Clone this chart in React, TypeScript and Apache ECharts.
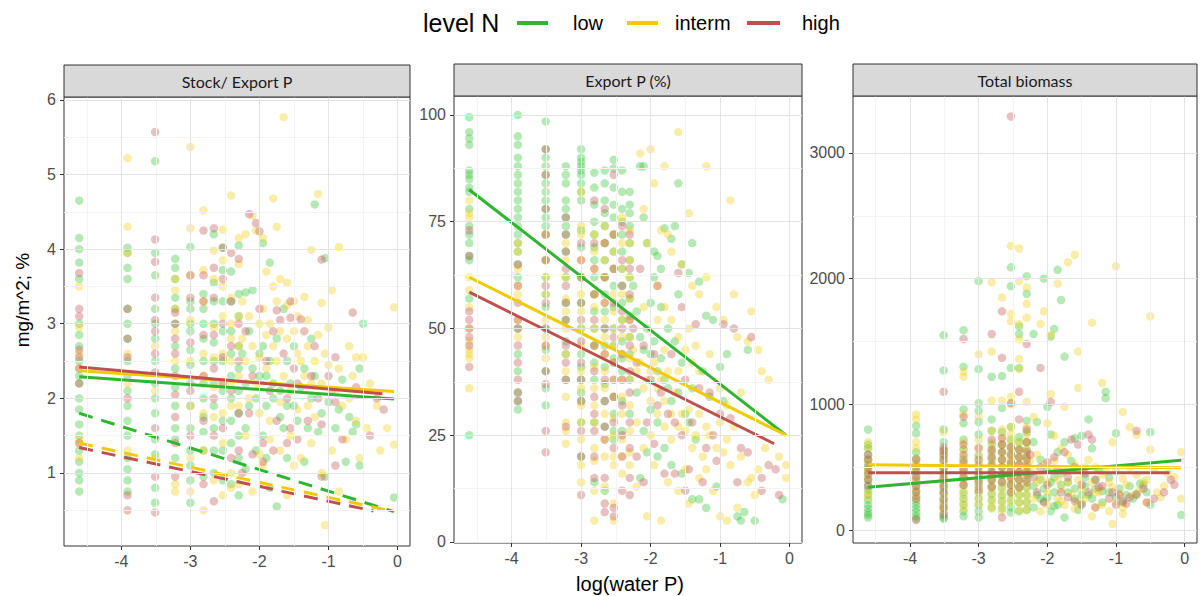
import React, { useEffect, useRef } from "react";
import * as echarts from "echarts";

// ---------------- data ----------------
// discrete log(water P) levels used for the column-like points
const X_LEVELS = [-4.61, -3.91, -3.51, -3.22, -3.0, -2.81, -2.66, -2.53, -2.41, -2.3];
const LEVEL_NAMES = ["low", "interm", "high"];
const PANEL_TITLES = ["Stock/ Export P", "Export P (%)", "Total biomass"];

// x ticks
const X_TICKS = [-4, -3, -2, -1, 0];
const X_MINOR = [-4.5, -3.5, -2.5, -1.5, -0.5];
// y ticks per panel
const Y_TICKS_1 = [1, 2, 3, 4, 5, 6];
const Y_MINOR_1 = [0.5, 1.5, 2.5, 3.5, 4.5, 5.5];
const Y_TICKS_2 = [0, 25, 50, 75, 100];
const Y_MINOR_2 = [12.5, 37.5, 62.5, 87.5];
const Y_TICKS_3 = [0, 1000, 2000, 3000];
const Y_MINOR_3 = [500, 1500, 2500];

// ---- Panel 1: Stock / Export P ----
const P1_LOW_COLS = [
  [4.65, 4.15, 4.0, 3.82, 3.6, 3.0, 2.85, 2.7, 2.5, 2.3, 2.2, 2.0, 1.85, 1.65, 1.5, 1.3, 1.15, 1.0, 0.9, 0.75],
  [4.02, 3.95, 3.75, 3.6, 3.2, 3.0, 2.8, 2.5, 2.3, 2.1, 1.9, 1.7, 1.5, 1.2, 1.05, 0.9, 0.75],
  [5.18, 3.95, 3.65, 3.2, 3.0, 2.8, 2.5, 2.2, 2.0, 1.8, 1.45, 1.25, 0.8, 0.6],
  [3.87, 3.75, 3.6, 3.35, 3.2, 3.0, 2.7, 2.4, 2.15, 1.9, 1.6, 1.45, 1.2],
  [4.03, 3.3, 3.2, 3.0, 2.9, 2.65, 2.45, 2.2, 1.9, 1.6, 1.3, 1.1, 0.9, 0.6],
  [3.4, 3.2, 3.0, 2.8, 2.5, 2.2, 2.0, 1.75, 1.55, 1.3, 0.95],
  [4.2, 3.55, 3.3, 3.0, 2.75, 2.5, 2.2, 1.9, 1.6, 1.3, 1.0],
  [4.02, 3.72, 3.3, 2.9, 2.5, 2.1, 1.7, 1.3, 0.9],
  [3.7, 3.3, 2.9, 2.6, 2.3, 2.0, 1.7, 1.4, 0.85],
  [4.05, 3.4, 3.1, 2.7, 2.4, 2.1, 1.8, 1.5, 1.2, 0.7],
];
const P1_LOW_PTS = [
  [-2.2, 3.42], [-2.1, 3.45], [-1.95, 4.08], [-1.85, 3.82], [-1.2, 4.6], [-1.05, 3.88], [-2.15, 2.9], [-2.0, 2.6],
  [-1.9, 2.3], [-1.8, 2.0], [-1.7, 1.75], [-1.6, 2.5], [-1.5, 1.9], [-1.4, 2.15], [-1.3, 1.6], [-1.2, 2.3],
  [-1.1, 1.8], [-1.0, 1.95], [-0.9, 1.6], [-0.8, 2.25], [-0.7, 1.75], [-0.6, 1.65], [-0.55, 2.4], [-0.5, 3.0],
  [-0.05, 0.67], [-1.75, 0.55], [-2.05, 1.3], [-1.95, 1.5], [-1.6, 1.2], [-1.35, 1.15], [-1.05, 0.95], [-0.75, 1.15],
  [-2.2, 1.05], [-1.85, 0.8], [-1.5, 2.7], [-1.25, 2.8], [-1.65, 3.2], [-0.55, 1.1],
  [-2.25, 2.6], [-2.2, 2.2], [-2.15, 1.9], [-2.1, 2.4], [-2.05, 2.0], [-2.0, 2.3], [-1.95, 2.7], [-1.9, 1.9],
  [-1.85, 2.5], [-1.8, 2.2], [-1.75, 2.8], [-1.7, 2.1], [-1.65, 1.6], [-1.6, 1.9], [-1.55, 2.2], [-1.45, 1.7],
  [-1.35, 2.4], [-1.25, 2.0], [-1.15, 1.55], [-0.95, 2.1], [-0.85, 1.85], [-0.65, 1.55], [-2.2, 1.6], [-1.9, 1.2],
];
const P1_MID_COLS = [
  [3.5, 2.95, 2.6, 2.4, 1.45, 1.4, 1.2],
  [5.22, 4.3, 3.95, 2.6, 2.2, 1.3],
  [2.7, 2.1, 1.2],
  [3.6, 3.45, 3.2, 2.9, 2.5, 0.85, 0.75],
  [5.37, 4.28, 3.65, 3.05, 2.5, 1.9, 1.2, 0.75],
  [4.52, 3.72, 3.3, 2.6, 2.3, 1.8, 1.3, 0.5],
  [3.98, 3.6, 2.95, 2.55, 2.15, 1.75, 0.9],
  [4.26, 3.85, 3.5, 3.1, 2.6, 2.2, 1.8, 1.4, 0.7],
  [4.72, 3.35, 3.0, 2.8, 2.5, 2.2, 1.9, 1.0, 0.8],
  [4.15, 3.8, 3.1, 2.7, 2.3, 1.9, 0.85],
];
const P1_MID_PTS = [
  [-2.2, 4.2], [-2.1, 4.45], [-2.05, 4.25], [-1.95, 4.15], [-1.8, 4.68], [-1.75, 4.3], [-1.65, 5.77], [-1.15, 4.74],
  [-0.85, 4.03], [-1.25, 3.99], [-1.9, 3.7], [-1.8, 3.5], [-1.7, 3.6], [-1.6, 3.25], [-1.5, 3.3], [-1.35, 3.36],
  [-1.3, 3.05], [-1.1, 3.28], [-1.0, 2.95], [-0.95, 3.45], [-0.7, 2.7], [-0.5, 2.55], [-0.05, 3.22], [-2.0, 3.0],
  [-1.9, 2.85], [-1.75, 2.5], [-1.6, 2.8], [-1.45, 2.6], [-1.35, 2.3], [-1.2, 2.5], [-1.1, 2.2], [-1.0, 2.45],
  [-0.9, 2.1], [-0.8, 1.9], [-0.7, 2.0], [-0.6, 1.7], [-0.45, 1.6], [-0.3, 1.9], [-0.15, 1.6], [-0.05, 1.38],
  [-2.15, 2.0], [-2.0, 1.8], [-1.85, 1.7], [-1.7, 1.3], [-1.55, 1.5], [-1.4, 1.2], [-1.25, 1.4], [-1.1, 1.0],
  [-0.95, 1.3], [-0.85, 0.75], [-0.75, 1.45], [-0.55, 1.2], [-1.05, 0.3], [-1.95, 1.1], [-2.1, 0.75], [-1.6, 0.7],
  [-0.4, 2.2], [-1.45, 1.85], [-0.25, 1.3], [-2.25, 3.3],
  [-2.25, 2.8], [-2.2, 2.5], [-2.15, 3.1], [-2.1, 2.7], [-2.05, 2.2], [-2.0, 2.55], [-1.95, 3.2], [-1.9, 2.4],
  [-1.85, 3.0], [-1.8, 2.7], [-1.75, 3.3], [-1.7, 2.9], [-1.65, 2.3], [-1.6, 3.55], [-1.55, 2.1], [-1.5, 2.9],
  [-1.45, 3.1], [-1.4, 2.5], [-1.3, 2.7], [-1.25, 2.2], [-1.15, 2.85], [-1.05, 2.6], [-0.85, 2.4], [-0.65, 2.3],
  [-0.6, 2.55], [-2.2, 1.5], [-2.0, 1.25], [-1.85, 1.45], [-1.7, 1.95], [-1.5, 1.1], [-1.3, 1.9], [-1.2, 1.75],
];
const P1_HIGH_COLS = [
  [3.68, 3.2, 3.1, 2.65, 2.55, 2.4, 2.2, 1.4],
  [3.2, 2.8, 2.55, 2.0, 0.7, 0.5],
  [5.57, 4.13, 3.83, 3.35, 3.05, 2.9, 2.6, 2.35, 1.6, 0.95, 0.47],
  [3.15, 3.0, 2.8, 2.6, 2.3, 2.05, 1.75, 1.4, 0.95],
  [3.65, 3.35, 2.75, 2.1, 1.5],
  [4.25, 3.65, 3.3, 2.85, 2.3, 1.7, 0.85],
  [4.28, 3.75, 3.35, 2.85, 2.4, 2.0, 1.5, 0.62],
  [4.02, 3.6, 3.0, 2.55, 2.2, 1.6],
  [3.95, 3.3, 2.7, 2.1, 1.2],
  [3.87, 3.0, 2.5, 1.8, 1.3],
];
const P1_HIGH_PTS = [
  [-2.15, 4.47], [-2.05, 4.35], [-2.0, 4.24], [-1.55, 3.3], [-1.75, 3.18], [-1.55, 3.08], [-1.4, 3.06], [-1.1, 3.86],
  [-0.65, 3.15], [-1.8, 2.9], [-1.65, 2.6], [-1.5, 2.4], [-1.2, 2.7], [-0.9, 2.55], [-0.6, 2.15], [-0.2, 1.85],
  [-0.3, 2.0], [-1.95, 1.4], [-1.8, 1.3], [-1.45, 1.45], [-1.1, 1.65], [-0.8, 1.45], [-0.4, 1.5], [-1.1, 0.95],
  [-0.9, 1.1], [-2.1, 1.25], [-1.3, 1.7],
  [-2.2, 2.9], [-2.1, 2.3], [-2.0, 3.2], [-1.9, 2.5], [-1.85, 2.1], [-1.7, 3.05], [-1.6, 2.0], [-1.45, 2.2],
  [-1.35, 2.9], [-1.25, 2.3], [-1.15, 2.0], [-1.0, 2.3], [-0.9, 1.95], [-2.15, 1.8], [-1.75, 1.7], [-1.55, 1.6],
  [-1.6, 1.4], [-1.95, 1.15], [-2.25, 1.0],
];
// fitted lines panel 1 (solid and dashed)
const P1_FIT_SOLID = [
  [[-4.61, 2.29], [-0.05, 1.99]],
  [[-4.61, 2.37], [-0.05, 2.09]],
  [[-4.61, 2.42], [-0.22, 2.06]],
];
const P1_FIT_DASHED = [
  [[-4.61, 1.8], [-0.05, 0.48]],
  [[-4.61, 1.4], [-0.05, 0.48]],
  [[-4.61, 1.34], [-0.35, 0.49]],
];

// ---- Panel 2: Export P (%) ----
const P2_LOW_COLS = [
  [99.5, 96, 94.5, 93, 87, 86, 85, 83, 82, 78, 74, 72, 70, 67, 66, 57, 25],
  [100, 95, 93, 90, 88, 86, 84, 82, 80, 78, 76, 74, 72, 70, 68, 65, 62, 50, 44, 40, 35, 33, 31],
  [98.5, 92, 90, 88, 86, 84, 82, 80, 78, 76, 74, 72, 66, 62, 58, 55, 50, 45, 40, 36, 32],
  [88, 86, 84, 80, 78, 76, 74, 72, 68, 62, 56, 52, 47, 44, 38],
  [92, 90, 89, 88, 87, 86, 84, 82, 80, 73, 69, 62, 56, 50, 44, 41, 38, 35, 33, 28, 20],
  [86.5, 83, 79, 75, 72, 69, 66, 62, 58, 54, 50, 46, 42, 38, 28, 14],
  [87, 84, 80, 77, 74, 70, 66, 62, 58, 54, 50, 46, 41, 37, 33, 27, 12],
  [89.5, 87.5, 83, 79, 76, 72, 68, 64, 60, 55, 50, 46, 43, 34, 30, 26, 24],
  [87, 82, 78, 75, 72, 68, 64, 60, 56, 52, 47, 43, 40, 33, 26],
  [82, 79, 77, 74, 70, 66, 62, 57, 53, 48, 44, 38, 30],
];
const P2_LOW_PTS = [
  [-2.15, 88], [-2.1, 88], [-2.1, 76], [-2.05, 70], [-1.95, 68], [-1.9, 67], [-1.85, 64], [-1.8, 73.5],
  [-1.7, 71], [-1.6, 58], [-1.55, 65], [-1.45, 63], [-1.3, 61], [-1.2, 53], [-1.1, 52], [-1.0, 41],
  [-0.9, 44], [-0.6, 45], [-1.65, 74], [-1.4, 70], [-1.6, 84], [-1.95, 62], [-2.0, 56], [-1.85, 55],
  [-1.75, 50], [-1.65, 47], [-1.55, 42], [-1.4, 36], [-1.25, 40], [-1.15, 34], [-2.0, 31], [-1.9, 28],
  [-1.8, 22], [-1.7, 18], [-1.55, 16], [-1.4, 10], [-1.3, 10], [-1.2, 8], [-1.05, 13], [-0.75, 6],
  [-0.7, 5], [-0.65, 7], [-0.5, 5], [-0.1, 10], [-2.15, 15], [-2.05, 21], [-1.9, 20], [-0.95, 33],
  [-2.25, 60], [-2.2, 54], [-2.15, 48], [-2.1, 45], [-2.05, 50], [-2.0, 44], [-1.95, 47], [-1.9, 40],
  [-1.85, 43], [-1.8, 38], [-1.75, 36], [-1.7, 33], [-1.6, 35], [-1.5, 30], [-1.45, 28], [-1.35, 24],
  [-2.2, 35], [-2.1, 26],
];
const P2_MID_COLS = [
  [80, 77, 76, 62, 59, 55, 50, 47, 45, 44, 43, 36],
  [70, 68, 64, 60, 58, 52, 48],
  [72, 66, 62, 58, 52, 48, 46, 43],
  [70, 66, 62, 57, 54, 50, 44, 40, 34, 28, 26, 23],
  [82, 74, 72, 66, 62, 58, 54, 50, 46, 40, 36, 32, 28, 24, 18, 14],
  [72, 68, 64, 58, 55, 50, 46, 41, 36, 32, 28, 22, 19, 12, 5],
  [74, 70, 66, 62, 56, 52, 48, 44, 40, 36, 30, 24, 20, 13],
  [72, 68, 64, 58, 54, 50, 46, 42, 38, 34, 29, 25, 20, 18, 9, 5],
  [76, 70, 64, 58, 52, 48, 44, 38, 34, 30, 24, 20, 16],
  [73, 70, 66, 62, 57, 52, 48, 43, 38, 32, 26, 21, 18],
];
const P2_MID_PTS = [
  [-2.15, 91], [-2.0, 92], [-1.95, 84], [-1.8, 88], [-1.6, 96], [-1.2, 88], [-0.85, 80], [-1.45, 77],
  [-2.1, 78], [-2.05, 70], [-1.85, 73], [-1.75, 72], [-1.7, 68], [-1.55, 65], [-1.4, 60], [-1.3, 58],
  [-1.2, 62], [-1.05, 55], [-0.95, 52], [-0.8, 58], [-0.55, 54], [-0.75, 48], [-0.6, 47], [-0.45, 45],
  [-0.4, 40], [-0.3, 38], [-1.9, 60], [-1.8, 55], [-1.7, 52], [-1.6, 48], [-1.5, 45], [-1.4, 42],
  [-1.3, 40], [-1.15, 44], [-1.0, 36], [-0.9, 32], [-0.7, 35], [-2.0, 40], [-1.9, 36], [-1.8, 33],
  [-1.7, 30], [-1.6, 27], [-1.45, 31], [-1.35, 25], [-1.2, 27], [-1.05, 22], [-0.95, 21], [-0.85, 18],
  [-0.7, 20], [-0.55, 15], [-0.45, 17], [-0.35, 22], [-0.15, 20], [-0.05, 18], [-0.05, 15], [-2.1, 22],
  [-1.95, 18], [-1.75, 14], [-1.6, 12], [-1.45, 9], [-1.3, 15], [-1.1, 12], [-1.0, 6], [-0.9, 5],
  [-0.75, 8], [-0.6, 14], [-0.5, 11], [-2.2, 13], [-2.05, 6], [-1.85, 5], [-1.5, 17], [-1.2, 17],
  [-2.25, 45], [-2.2, 40], [-2.15, 42], [-2.1, 36], [-2.05, 38], [-2.0, 33], [-1.95, 42], [-1.9, 30],
  [-1.85, 38], [-1.8, 27], [-1.75, 40], [-1.7, 24], [-1.65, 35], [-1.55, 30], [-1.5, 26], [-1.4, 22],
  [-1.3, 30], [-1.25, 20], [-1.15, 25], [-1.0, 28], [-0.9, 24], [-0.8, 27], [-2.2, 28], [-2.0, 25],
  [-1.8, 45], [-1.6, 40], [-1.45, 50], [-1.35, 46], [-2.1, 55], [-1.9, 52],
];
const P2_HIGH_COLS = [
  [73, 67, 54, 52, 50, 48, 46, 41],
  [65, 60, 56, 52, 50, 46, 42, 38, 35, 33],
  [92, 86, 78, 72, 66, 60, 56, 50, 46, 40, 37, 26, 21],
  [76, 72, 68, 64, 60, 56, 52, 46, 42, 38, 27],
  [70, 66, 62, 56, 52, 47, 42, 38, 33, 26, 20, 11],
  [80, 70, 64, 58, 52, 46, 40, 34, 30, 26, 20, 15],
  [78, 70, 62, 56, 50, 44, 38, 33, 27, 24, 15, 9, 7],
  [86, 72, 64, 56, 48, 42, 38, 34, 28, 22, 8, 6],
  [74, 66, 60, 54, 50, 44, 38, 32, 25, 20, 12],
  [72, 64, 58, 52, 46, 40, 35, 28, 22, 15, 11],
];
const P2_HIGH_PTS = [
  [-2.15, 64], [-1.9, 60], [-1.6, 63], [-1.55, 55], [-1.35, 51], [-0.95, 51], [-0.8, 50], [-0.55, 48],
  [-2.05, 28], [-1.9, 32], [-1.7, 44], [-1.5, 38], [-1.3, 36], [-1.15, 35], [-1.0, 30], [-0.85, 29],
  [-0.7, 22], [-0.6, 21], [-0.4, 15], [-0.3, 18], [-0.2, 17], [-0.15, 11], [-1.8, 16], [-1.65, 16],
  [-1.45, 17], [-1.25, 14], [-1.05, 19], [-2.1, 14], [-1.5, 12], [-0.75, 14], [-0.4, 12],
  [-2.25, 50], [-2.2, 42], [-2.1, 46], [-2.0, 38], [-1.95, 44], [-1.85, 35], [-1.75, 30], [-1.65, 28],
  [-1.55, 25], [-1.4, 28], [-1.2, 22], [-1.1, 25], [-2.2, 20], [-1.95, 23],
];
const P2_FIT = [
  [[-4.61, 82.5], [-0.05, 25]],
  [[-4.61, 62], [-0.05, 25]],
  [[-4.61, 58.5], [-0.22, 23]],
];

// ---- Panel 3: Total biomass ----
const P3_LOW_COLS = [
  [800, 680, 650, 600, 560, 520, 480, 440, 400, 360, 320, 280, 240, 200, 170, 140, 120, 100],
  [830, 770, 620, 570, 520, 470, 430, 390, 350, 310, 270, 230, 200, 170, 140, 110, 90],
  [1550, 1270, 800, 700, 640, 590, 540, 490, 450, 410, 370, 330, 290, 250, 210, 170, 130, 100, 90],
  [1590, 1300, 960, 850, 720, 640, 560, 480, 420, 360, 300, 250, 200, 150, 110],
  [1980, 1280, 1010, 950, 860, 760, 590, 520, 460, 400, 350, 300, 250, 200, 150, 100],
  [1220, 880, 790, 680, 620, 560, 500, 450, 400, 350, 290, 240, 180],
  [1225, 970, 780, 680, 620, 560, 500, 440, 390, 340, 280, 230, 170],
  [2090, 1940, 1290, 820, 720, 660, 600, 530, 470, 410, 360, 300, 240, 180, 140],
  [1620, 1560, 1290, 740, 700, 640, 580, 520, 460, 400, 340, 280, 220, 150],
  [2020, 1880, 870, 780, 700, 640, 580, 520, 460, 400, 340, 280, 220, 160],
];
const P3_LOW_PTS = [
  [-2.2, 1560], [-2.15, 860], [-2.05, 2000], [-1.95, 1540], [-1.9, 1600], [-1.85, 2070], [-1.8, 1830], [-1.75, 1380],
  [-2.0, 980], [-1.95, 760], [-1.85, 620], [-1.75, 700], [-1.6, 730], [-1.5, 750], [-1.4, 880], [-1.35, 650],
  [-1.15, 1100], [-1.15, 1050], [-1.0, 770], [-0.5, 780], [-2.2, 700], [-2.1, 560], [-2.0, 480], [-1.9, 420],
  [-1.8, 360], [-1.7, 300], [-1.6, 250], [-1.5, 210], [-1.4, 280], [-1.3, 330], [-1.2, 220], [-1.1, 300],
  [-1.0, 260], [-0.9, 220], [-0.8, 350], [-0.7, 290], [-0.6, 360], [-0.5, 200], [-1.9, 190], [-1.75, 100],
  [-2.05, 230], [-1.65, 550], [-1.45, 420], [-1.25, 480], [-0.05, 120], [-1.55, 160],
  [-2.25, 450], [-2.2, 350], [-2.15, 280], [-2.1, 400], [-2.05, 330], [-2.0, 260], [-1.95, 380], [-1.9, 300],
  [-1.85, 200], [-1.8, 450], [-1.7, 380], [-1.6, 330], [-1.5, 280], [-1.45, 350], [-1.35, 250], [-1.3, 400],
  [-1.2, 310], [-1.1, 420], [-0.95, 330], [-0.85, 280], [-0.75, 250], [-0.65, 370], [-0.55, 300], [-2.2, 180],
  [-2.1, 250], [-1.95, 150],
];
const P3_MID_COLS = [
  [700, 650, 550, 480, 420, 300, 260],
  [920, 880, 700, 650, 560, 480, 400, 320, 260],
  [780, 620, 560, 480, 420, 350, 280, 200, 160],
  [1260, 1220, 920, 700, 640, 580, 520, 460, 400, 340, 280, 220, 170],
  [1400, 900, 720, 660, 600, 550, 500, 450, 400, 350, 300, 250, 200],
  [1970, 1420, 1030, 790, 700, 640, 580, 520, 460, 400, 340, 280, 220, 170],
  [1850, 1030, 800, 740, 680, 620, 560, 500, 440, 380, 320, 260, 200, 150],
  [2260, 1720, 1660, 1060, 1000, 820, 760, 700, 640, 580, 520, 460, 400, 340, 280, 220],
  [2240, 1980, 1640, 1520, 1360, 1280, 700, 640, 580, 520, 460, 400, 340, 280, 220, 160],
  [1930, 1800, 1690, 1020, 820, 760, 700, 640, 580, 520, 460, 400, 340, 280, 220, 160],
];
const P3_MID_PTS = [
  [-2.05, 1740], [-2.1, 1640], [-1.85, 1960], [-1.95, 1550], [-1.6, 2190], [-1.7, 2130], [-1.0, 2100], [-0.5, 1700],
  [-1.55, 1420], [-1.95, 1080], [-1.75, 980], [-1.55, 1130], [-1.35, 1650], [-1.2, 1170], [-0.8, 820], [-0.7, 760],
  [-0.9, 940], [-1.05, 700], [-0.5, 640], [-0.05, 620], [-2.2, 900], [-2.0, 850], [-1.9, 750], [-1.8, 650],
  [-1.7, 600], [-1.6, 520], [-1.5, 470], [-1.4, 560], [-1.3, 500], [-1.2, 440], [-1.1, 380], [-1.0, 470],
  [-0.9, 410], [-0.8, 500], [-0.7, 440], [-0.6, 380], [-0.4, 300], [-0.3, 350], [-0.15, 420], [-0.05, 250],
  [-2.15, 380], [-2.0, 300], [-1.85, 250], [-1.75, 200], [-1.6, 170], [-1.45, 250], [-1.3, 300], [-1.2, 200],
  [-1.1, 150], [-1.0, 220], [-0.9, 180], [-0.75, 280], [-0.55, 220], [-1.05, 50], [-1.35, 110], [-2.1, 150],
  [-0.45, 480],
  [-2.25, 550], [-2.2, 480], [-2.15, 600], [-2.1, 420], [-2.05, 520], [-2.0, 380], [-1.95, 480], [-1.9, 550],
  [-1.85, 400], [-1.8, 330], [-1.75, 470], [-1.7, 380], [-1.65, 290], [-1.55, 400], [-1.5, 330], [-1.45, 500],
  [-1.35, 380], [-1.25, 300], [-1.15, 470], [-1.05, 340], [-0.95, 290], [-0.85, 360], [-0.65, 320], [-0.55, 400],
  [-0.35, 260], [-0.25, 450], [-2.2, 250], [-2.0, 200], [-1.8, 230], [-1.55, 220], [-1.3, 180], [-0.9, 130],
];
const P3_HIGH_COLS = [
  [600, 560, 500, 450, 400, 350],
  [560, 500, 420, 350, 300, 250, 80],
  [1100, 660, 630, 600, 560, 500, 450, 400, 350, 300, 240, 180, 120],
  [1520, 900, 680, 600, 540, 480, 420, 360],
  [650, 560, 500, 440, 380, 320],
  [1560, 720, 640, 580, 520, 460, 400, 340],
  [1740, 1370, 730, 680, 620, 560, 500, 440, 380, 100],
  [3290, 1010, 660, 600, 540, 480, 420, 360, 300],
  [1100, 880, 640, 580, 520, 460, 400, 340],
  [1480, 800, 700, 620, 560, 500, 440, 380],
];
const P3_HIGH_PTS = [
  [-2.1, 1290], [-1.95, 1020], [-1.75, 620], [-1.65, 720], [-1.55, 680], [-1.4, 760], [-1.35, 720], [-0.7, 790],
  [-2.0, 540], [-1.85, 480], [-1.7, 420], [-1.5, 360], [-1.4, 300], [-1.25, 340], [-1.1, 250], [-1.0, 200],
  [-0.9, 230], [-0.8, 260], [-0.7, 280], [-0.55, 220], [-0.3, 300], [-0.2, 400], [-0.15, 360], [-1.6, 230],
  [-1.3, 180], [-2.15, 300],
  [-2.25, 600], [-2.2, 420], [-2.1, 500], [-2.0, 360], [-1.9, 580], [-1.8, 300], [-1.7, 260], [-1.6, 500],
  [-1.45, 450], [-1.3, 400], [-1.2, 350], [-1.05, 300], [-0.95, 280], [-0.85, 210], [-0.6, 330], [-0.45, 250],
  [-2.05, 220], [-1.5, 200],
];
const P3_FIT = [
  [[-4.61, 340], [-0.05, 555]],
  [[-4.61, 520], [-0.05, 495]],
  [[-4.61, 455], [-0.22, 455]],
];

// ---------------- styling ----------------
const LINE_COLORS = ["#2fb52f", "#f0cb05", "#c0504d"];
const POINT_COLORS = ["#3cc43c", "#f3d020", "#c65a5a"];
const FONT = "'Liberation Sans', Arial, sans-serif";

function toPoints(cols: number[][], pts: number[][]) {
  const out: number[][] = [];
  cols.forEach((ys, i) => ys.forEach((y) => out.push([X_LEVELS[i], y])));
  pts.forEach((p) => out.push(p));
  return out;
}

const PANELS = [
  {
    grid: { left: 64, top: 97, width: 346, height: 449 },
    yMin: 0.02, yMax: 6.04, yTicks: Y_TICKS_1, yMinor: Y_MINOR_1,
    points: [toPoints(P1_LOW_COLS, P1_LOW_PTS), toPoints(P1_MID_COLS, P1_MID_PTS), toPoints(P1_HIGH_COLS, P1_HIGH_PTS)],
    fits: [P1_FIT_SOLID, P1_FIT_DASHED],
  },
  {
    grid: { left: 454, top: 96, width: 348, height: 447 },
    yMin: -0.25, yMax: 104.45, yTicks: Y_TICKS_2, yMinor: Y_MINOR_2,
    points: [toPoints(P2_LOW_COLS, P2_LOW_PTS), toPoints(P2_MID_COLS, P2_MID_PTS), toPoints(P2_HIGH_COLS, P2_HIGH_PTS)],
    fits: [P2_FIT],
  },
  {
    grid: { left: 853, top: 96, width: 344, height: 447 },
    yMin: -103, yMax: 3453, yTicks: Y_TICKS_3, yMinor: Y_MINOR_3,
    points: [toPoints(P3_LOW_COLS, P3_LOW_PTS), toPoints(P3_MID_COLS, P3_MID_PTS), toPoints(P3_HIGH_COLS, P3_HIGH_PTS)],
    fits: [P3_FIT],
  },
];

function buildOption() {
  const grids: any[] = [];
  const xAxes: any[] = [];
  const yAxes: any[] = [];
  const series: any[] = [];
  const graphic: any[] = [];
  const plain = (v: number) => String(v);

  PANELS.forEach((p, pi) => {
    grids.push({ ...p.grid, show: true, borderColor: "#333", borderWidth: 1, backgroundColor: "#fff", containLabel: false });
    xAxes.push({
      type: "value", gridIndex: pi, min: -4.83, max: 0.18,
      axisLine: { show: false, onZero: false },
      axisTick: { show: true, length: 4, customValues: X_TICKS, lineStyle: { color: "#333" } },
      axisLabel: { customValues: X_TICKS, formatter: plain, color: "#4d4d4d", fontSize: 16, fontFamily: FONT, margin: 7 },
      splitLine: { show: false },
    });
    yAxes.push({
      type: "value", gridIndex: pi, min: p.yMin, max: p.yMax,
      axisLine: { show: false, onZero: false },
      axisTick: { show: true, length: 4, customValues: p.yTicks, lineStyle: { color: "#333" } },
      axisLabel: { customValues: p.yTicks, formatter: plain, color: "#4d4d4d", fontSize: 16, fontFamily: FONT, margin: 8 },
      splitLine: { show: false },
    });
    // grid lines (minor + major) placed through the axes' scales
    series.push({
      type: "line", xAxisIndex: pi, yAxisIndex: pi, data: [], silent: true, z: 1,
      markLine: {
        silent: true, symbol: ["none", "none"], label: { show: false }, animation: false,
        emphasis: { disabled: true },
        data: [
          ...X_MINOR.map((v) => ({ xAxis: v, lineStyle: { color: "#f3f3f3", width: 1, type: "solid" } })),
          ...p.yMinor.map((v) => ({ yAxis: v, lineStyle: { color: "#f3f3f3", width: 1, type: "solid" } })),
          ...X_TICKS.map((v) => ({ xAxis: v, lineStyle: { color: "#e3e3e3", width: 1, type: "solid" } })),
          ...p.yTicks.map((v) => ({ yAxis: v, lineStyle: { color: "#e3e3e3", width: 1, type: "solid" } })),
        ],
      },
    });
    p.points.forEach((pts, li) => {
      series.push({
        type: "scatter", name: LEVEL_NAMES[li], xAxisIndex: pi, yAxisIndex: pi, data: pts,
        symbolSize: 8.5, z: 2, silent: true,
        itemStyle: { color: POINT_COLORS[li], opacity: 0.38 },
      });
    });
    p.fits.forEach((fitSet, fi) => {
      fitSet.forEach((seg, li) => {
        series.push({
          type: "line", name: LEVEL_NAMES[li], xAxisIndex: pi, yAxisIndex: pi, data: seg,
          showSymbol: false, symbol: "none", silent: true, z: 3,
          lineStyle: { color: LINE_COLORS[li], width: 3, type: fi === 1 ? [14, 9] : "solid" },
        });
      });
    });
    // facet strip
    const g = p.grid;
    graphic.push({
      type: "rect", shape: { x: g.left, y: g.top - 32, width: g.width, height: 32 },
      style: { fill: "#d9d9d9", stroke: "#333", lineWidth: 1 }, z: 10,
    });
    graphic.push({
      type: "text", x: g.left + g.width / 2, y: g.top - 16, z: 11,
      style: { text: PANEL_TITLES[pi], fill: "#1a1a1a", fontSize: 16, fontFamily: "Lato, 'Open Sans', sans-serif", align: "center", verticalAlign: "middle" },
    });
  });

  // legend
  graphic.push({ type: "text", x: 423, y: 23, style: { text: "level N", fill: "#000", fontSize: 25, fontFamily: FONT, verticalAlign: "middle" } });
  const legendItems = [
    { x1: 517, x2: 548, tx: 573 },
    { x1: 627, x2: 658, tx: 675 },
    { x1: 747, x2: 780, tx: 802 },
  ];
  legendItems.forEach((it, i) => {
    graphic.push({ type: "line", shape: { x1: it.x1, y1: 23, x2: it.x2, y2: 23 }, style: { stroke: LINE_COLORS[i], lineWidth: 4 } });
    graphic.push({ type: "text", x: it.tx, y: 23, style: { text: LEVEL_NAMES[i], fill: "#000", fontSize: 20, fontFamily: FONT, verticalAlign: "middle" } });
  });

  // axis titles
  graphic.push({ type: "text", x: 630, y: 584, style: { text: "log(water P)", fill: "#000", fontSize: 20, fontFamily: FONT, align: "center", verticalAlign: "middle" } });
  graphic.push({ type: "text", x: 22, y: 300, rotation: Math.PI / 2, style: { text: "mg/m^2; %", fill: "#000", fontSize: 19, fontFamily: FONT, align: "center", verticalAlign: "middle" } });

  return {
    animation: false,
    backgroundColor: "#fff",
    grid: grids,
    xAxis: xAxes,
    yAxis: yAxes,
    series,
    graphic,
  };
}

export default function App() {
  const ref = useRef<HTMLDivElement>(null);
  useEffect(() => {
    if (!ref.current) return;
    const chart = echarts.init(ref.current, undefined, { renderer: "svg" });
    chart.setOption(buildOption() as any);
    return () => chart.dispose();
  }, []);
  return <div ref={ref} style={{ position: "fixed", left: 0, top: 0, width: 1200, height: 596 }} />;
}
